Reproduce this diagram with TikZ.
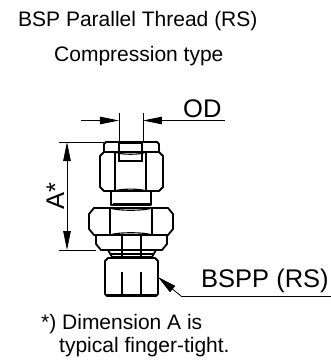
\documentclass[tikz,border=0pt]{standalone}
\usepackage{fontspec}
\setmainfont{Liberation Sans}
\usetikzlibrary{arrows.meta}
\tikzset{
  x=1pt,y=-1pt,
  part/.style={line width=1.8pt,line join=round,fill=white},
  thin part/.style={line width=1.1pt},
  dim/.style={line width=0.8pt},
  tip/.style={-{Triangle[length=19pt,width=7.5pt]}},
  lbl/.style={inner sep=0pt,anchor=base west},
  small text/.style={font=\fontsize{21}{24}\selectfont},
  big text/.style={font=\fontsize{25.5}{28}\selectfont},
}
\begin{document}
\begin{tikzpicture}
\useasboundingbox (0,0) rectangle (331,360);
\node[lbl,small text] (title) at (18,26) {BSP Parallel Thread (RS)};
\node[lbl,small text] (sub) at (54,61) {Compression type};
% upper collar
\draw[part] (106,142) -- (157,142) -- (159,144) -- (159,152) -- (104,152) -- (104,144) -- cycle;
% neck
\draw[part] (111,190) -- (111,205) -- (151,205) -- (151,190);
\draw[line width=3pt] (113,204.5) -- (150,204.5);
% upper hex
\draw[part] (104,152) -- (159,152) -- (163,156) -- (163,187) -- (159,191) -- (104,191) -- (100,187) -- (100,156) -- cycle;
\draw[thin part] (115,152) -- (115,191) (146,152) -- (146,191);
\draw[thin part] (119,142) -- (119,161) -- (142,161) -- (142,142);
\draw[line width=2pt] (119,143) -- (142,143);
\draw[thin part] (115,152) .. controls (120,155) and (141,155) .. (146,152);
\draw[thin part] (115,191) .. controls (120,188.5) and (141,188.5) .. (146,191);
% lower neck
\draw[part] (108,250) -- (112,257) -- (152,257) -- (156,250);
\draw[line width=1.2pt] (110,254) -- (154,254);
% body
\draw[part] (108,258) -- (155,258) -- (158,261) -- (158,294) -- (156,296) -- (107,296) -- (105,294) -- (105,261) -- cycle;
\draw[line width=2.6pt] (107,295.5) -- (156,295.5);
\draw[thin part] (122,272) -- (122,295) (141,272) -- (141,295);
% washer
\draw[part] (96,235) -- (167,235) -- (167,244) -- (162,250) -- (101,250) -- (96,244) -- cycle;
\draw[thin part] (122,235) -- (122,258) (141,235) -- (141,258);
% lower hex
\draw[part] (94,208) -- (168,208) -- (173,214) -- (173,229) -- (168,235) -- (94,235) -- (89,229) -- (89,214) -- cycle;
\draw[thin part] (110,208) -- (110,235) (152,208) -- (152,235);
\draw[thin part] (110,208) .. controls (117,211) and (145,211) .. (152,208);
\draw[thin part] (110,235) .. controls (117,232) and (145,232) .. (152,235);
% OD dimension
\coordinate (odl) at (119,120.5);
\coordinate (odr) at (143,120.5);
\coordinate (odls) at (81,120.5);
\coordinate (odre) at (225,120.5);
\draw[dim] (119,113) -- (119,142) (143,113) -- (143,142);
\draw[dim,tip] (odls) -- (odl);
\draw[dim,tip] (odre) -- (odr);
\node[lbl,big text] (od) at (183,117) {OD};
% A dimension
\coordinate (at) at (67,142);
\coordinate (ab) at (67,250);
\draw[dim] (59,142) -- (104,142) (59,250) -- (96,250);
\draw[dim,tip] (67,196) -- (at);
\draw[dim,tip] (67,196) -- (ab);
\node[big text,rotate=90,inner sep=0pt,anchor=base] (a) at (64,196.5) {A*};
% leader
\coordinate (lt) at (158,277);
\coordinate (lm) at (181,296);
\coordinate (le) at (331,296);
\draw[dim] (le) -- (lm);
\draw[dim,-{Triangle[length=19pt,width=8pt]}] (lm) -- (lt);
\node[lbl,big text] (bspp) at (201,287) {BSPP (RS)};
% note
\node[lbl,small text] (n1) at (41,329) {*) Dimension A is};
\node[lbl,small text] (n2) at (59,352) {typical finger-tight.};
\end{tikzpicture}
\end{document}
